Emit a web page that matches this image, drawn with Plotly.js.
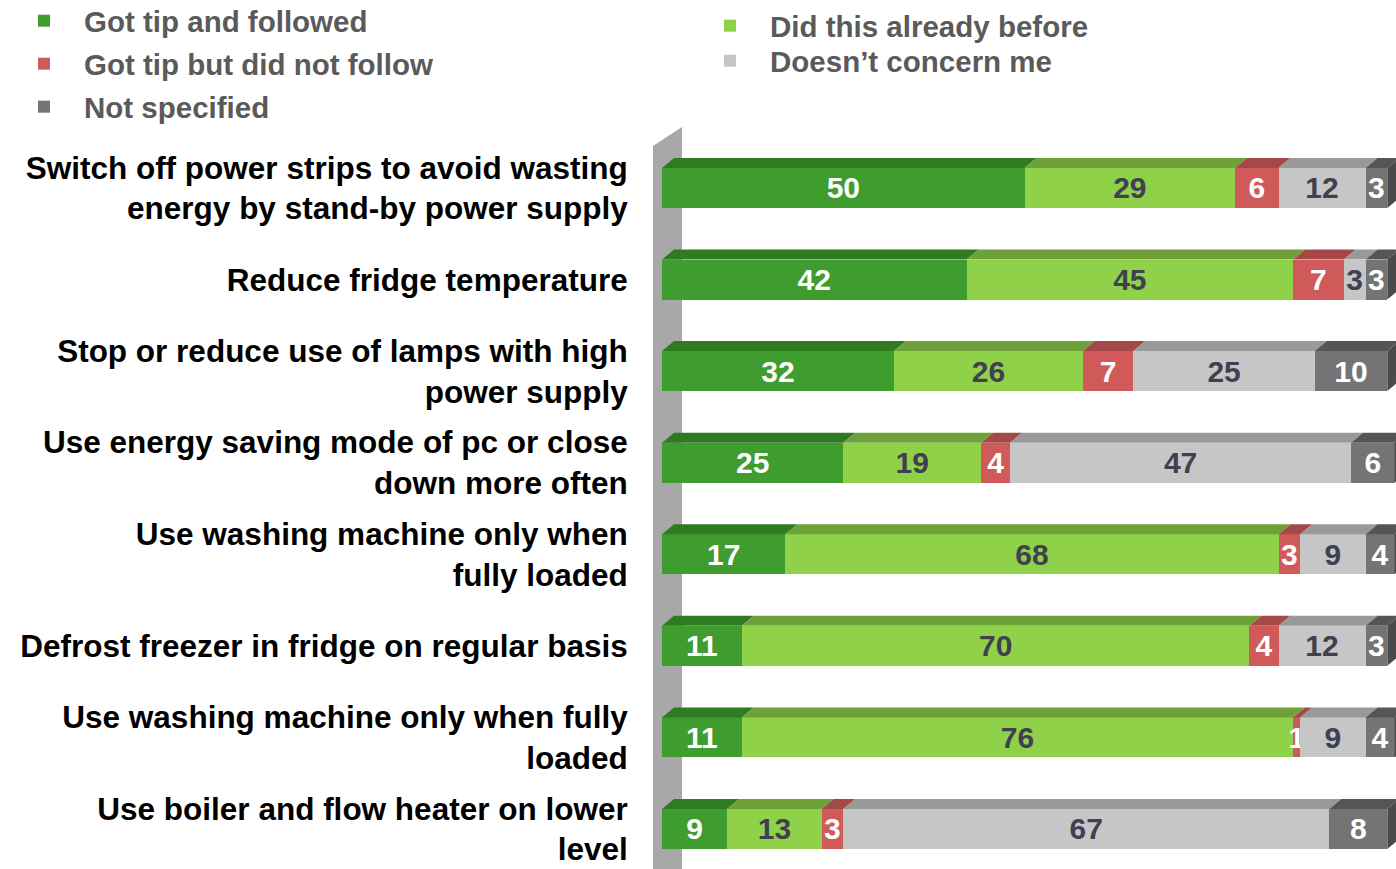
<!DOCTYPE html>
<html>
<head>
<meta charset="utf-8">
<script src="https://cdn.plot.ly/plotly-3.0.1.min.js"></script>
<style>html,body{margin:0;padding:0;background:#fff;}#chart{width:1396px;height:869px;}</style>
</head>
<body>
<div id="chart"></div>
<script>
// ---- data ----
const categories = [
  "Switch off power strips to avoid wasting<br>energy by stand-by power supply",
  "Reduce fridge temperature",
  "Stop or reduce use of lamps with high<br>power supply",
  "Use energy saving mode of pc or close<br>down more often",
  "Use washing machine only when<br>fully loaded",
  "Defrost freezer in fridge on regular basis",
  "Use washing machine only when fully<br>loaded",
  "Use boiler and flow heater on lower<br>level"
];
const seriesNames = ["Got tip and followed", "Did this already before", "Got tip but did not follow", "Doesn\u2019t concern me", "Not specified"];
const gotTipFollowed   = [50, 42, 32, 25, 17, 11, 11, 9];
const didAlready       = [29, 45, 26, 19, 68, 70, 76, 13];
const gotTipNotFollow  = [6, 7, 7, 4, 3, 4, 1, 3];
const doesntConcern    = [12, 3, 25, 47, 9, 12, 9, 67];
const notSpecified     = [3, 3, 10, 6, 4, 3, 4, 8];

// ---- styling ----
const series = [gotTipFollowed, didAlready, gotTipNotFollow, doesntConcern, notSpecified];
const frontColors = ["#3f9c2f", "#8fd24a", "#d05a5a", "#c6c6c6", "#747474"];
const topColors   = ["#2f7b22", "#6ea238", "#a54848", "#999999", "#555555"];
const textColors  = ["#ffffff", "#404050", "#ffffff", "#404050", "#ffffff"];
const legendIds   = ["legend", "legend4", "legend2", "legend5", "legend3"];

const W = 1396, H = 869, L = 662, T = 130;
const plotW = W - L, plotH = H - T;
const xMax = 101.2;
const yTopVal = -0.633, yBotVal = 7.437;
const barW = 0.437;
const pxPerX = plotW / xMax;
const pxPerY = plotH / (yBotVal - yTopVal);
const dx = 12 / pxPerX, dy = 10 / pxPerY;

const yIdx = categories.map((c, i) => i);
const fontFam = "Liberation Sans, Arial, sans-serif";

const traces = series.map((vals, k) => ({
  type: "bar",
  orientation: "h",
  name: seriesNames[k],
  x: vals,
  y: yIdx,
  width: barW,
  marker: {color: frontColors[k], line: {width: 0}},
  text: vals.map(String),
  textposition: "inside",
  insidetextanchor: "middle",
  constraintext: "none",
  textangle: 0,
  insidetextfont: {family: fontFam, size: 30, color: textColors[k], weight: 700},
  legend: legendIds[k],
  cliponaxis: false,
  hoverinfo: "x+name"
}));

// 3D top faces and right faces built from the data
const shapes = [];
const px2x = p => (p - L) / plotW;
const py2y = p => (H - p) / plotH;
// back wall (decoration)
shapes.push({
  type: "path", xref: "paper", yref: "paper", layer: "below",
  path: `M${px2x(653)},${py2y(146)} L${px2x(682)},${py2y(127)} L${px2x(682)},${py2y(869)} L${px2x(653)},${py2y(869)} Z`,
  fillcolor: "#a8a8a8", line: {width: 0}
});
categories.forEach((c, i) => {
  let cum = 0;
  const yt = i - barW / 2, yb = i + barW / 2;
  series.forEach((vals, k) => {
    const x0 = cum, x1 = cum + vals[i];
    shapes.push({
      type: "path", xref: "x", yref: "y", layer: "above",
      path: `M${x0},${yt} L${x1},${yt} L${x1 + dx},${yt - dy} L${x0 + dx},${yt - dy} Z`,
      fillcolor: topColors[k], line: {width: 0}
    });
    cum = x1;
    if (k === series.length - 1) {
      shapes.push({
        type: "path", xref: "x", yref: "y", layer: "above",
        path: `M${x1},${yt} L${x1 + dx},${yt - dy} L${x1 + dx},${yb - dy} L${x1},${yb} Z`,
        fillcolor: "#4a4a4a", line: {width: 0}
      });
    }
  });
});

// legend positions (container px)
const legendPos = {
  legend:  [44, 21],
  legend2: [44, 64],
  legend3: [44, 107],
  legend4: [730, 26],
  legend5: [730, 61]
};
const layout = {
  width: W, height: H,
  margin: {l: L, r: 0, t: T, b: 0, pad: 0, autoexpand: false},
  paper_bgcolor: "#ffffff", plot_bgcolor: "rgba(0,0,0,0)",
  barmode: "stack",
  bargap: 0,
  showlegend: true,
  xaxis: {range: [0, xMax], visible: false, fixedrange: true, automargin: false},
  yaxis: {
    range: [yBotVal, yTopVal],
    tickvals: yIdx, ticktext: categories,
    showgrid: false, zeroline: false, showline: false,
    ticks: "outside", ticklen: 27, tickcolor: "rgba(0,0,0,0)",
    tickfont: {family: fontFam, size: 31.5, color: "#000000", weight: 700},
    automargin: false,
    fixedrange: true
  },
  shapes: shapes
};
Object.keys(legendPos).forEach(id => {
  const [px, py] = legendPos[id];
  layout[id] = {
    xref: "container", yref: "container",
    x: (px - 40) / W, y: 1 - py / H,
    xanchor: "left", yanchor: "middle",
    itemwidth: 70,
    bgcolor: "rgba(0,0,0,0)", borderwidth: 0,
    font: {family: fontFam, size: 29.5, color: "#5a5a5a", weight: 700},
    traceorder: "normal"
  };
});

Plotly.newPlot("chart", traces, layout, {displayModeBar: false, staticPlot: true});
</script>
</body>
</html>
